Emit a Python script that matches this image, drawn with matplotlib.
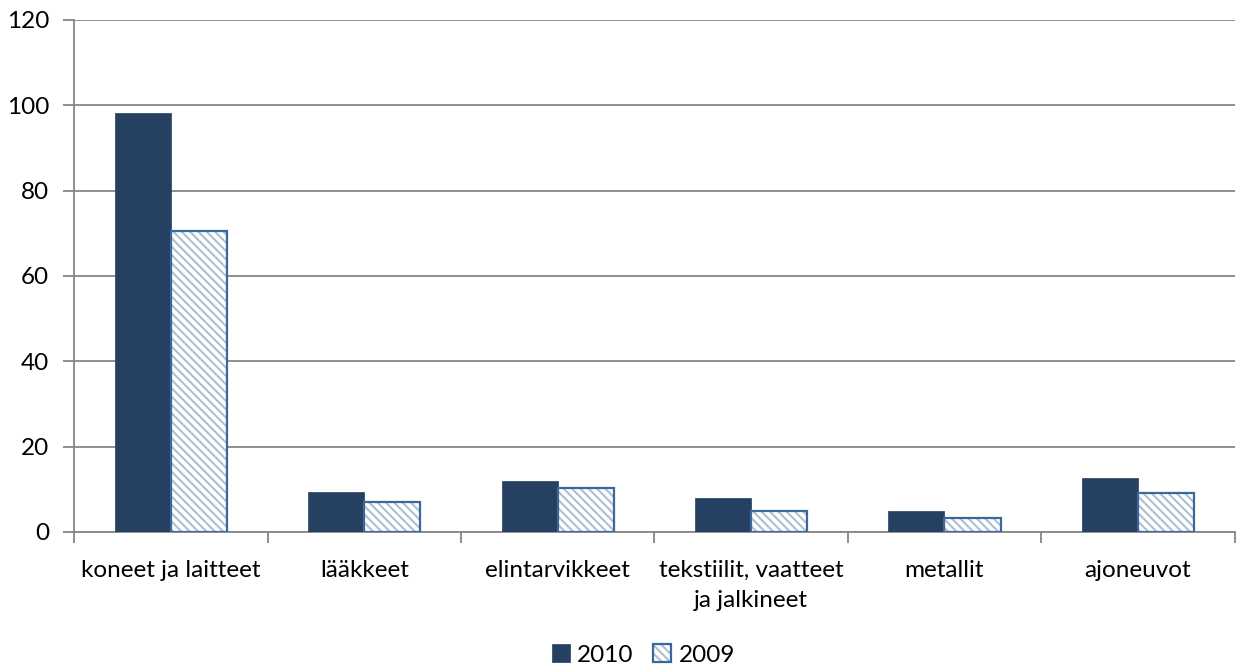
import numpy as np
import matplotlib
matplotlib.use('Agg')
import matplotlib.pyplot as plt
from matplotlib.legend_handler import HandlerTuple

categories = ['koneet ja laitteet', 'lääkkeet', 'elintarvikkeet',
              'tekstiilit, vaatteet\nja jalkineet', 'metallit', 'ajoneuvot']
values_2010 = [98.2, 9.3, 12.0, 8.0, 4.9, 12.7]
values_2009 = [70.5, 7.0, 10.2, 4.9, 3.2, 9.1]
yticks = [0, 20, 40, 60, 80, 100, 120]

plt.rcParams['font.family'] = ['Lato', 'DejaVu Sans']
plt.rcParams['hatch.linewidth'] = 1.5

fig = plt.figure(figsize=(12.37, 6.65), dpi=100)
ax = fig.add_axes([0.06, 0.2, 0.938, 0.77])

x = np.arange(len(categories))
w = 0.29
b10 = ax.bar(x - w / 2, values_2010, w, color='#254061', edgecolor='#254061',
             linewidth=0.5, zorder=3)
# hatch drawn with light colour, outline drawn on top separately
b09h = ax.bar(x + w / 2, values_2009, w, color='white', edgecolor='#AEBFD2',
              linewidth=0, hatch='\\\\\\\\', zorder=3)
b09e = ax.bar(x + w / 2, values_2009, w, fill=False, edgecolor='#3A679C',
              linewidth=1.6, zorder=4)

ax.set_xlim(-0.5, len(categories) - 0.5)
ax.set_ylim(0, 120)
ax.set_yticks(yticks)
ax.yaxis.grid(True, color='#868686', linewidth=1.3, zorder=0)

# x ticks sit between categories, labels centred under groups
ax.set_xticks(np.arange(len(categories) + 1) - 0.5)
ax.set_xticklabels([])
ax.set_xticks(x, minor=True)
ax.set_xticklabels(categories, minor=True, fontsize=17.5, linespacing=1.55,
                   va='top')
ax.tick_params(axis='x', which='minor', length=0, pad=20)
ax.tick_params(axis='x', which='major', length=8, width=1.3, color='#868686')
ax.tick_params(axis='y', length=8, width=1.3, color='#868686', labelsize=17.5, pad=10)

for s in ['top', 'right']:
    ax.spines[s].set_visible(False)
for s in ['left', 'bottom']:
    ax.spines[s].set_color('#868686')
    ax.spines[s].set_linewidth(1.3)

fig.legend([b10, (b09h, b09e)], ['2010', '2009'],
           handler_map={tuple: HandlerTuple(ndivide=1, pad=0)},
           loc='lower center', bbox_to_anchor=(0.52, -0.034), ncol=2,
           frameon=False, fontsize=17.5, handlelength=0.75, handleheight=0.75,
           handletextpad=0.3, columnspacing=0.8)

fig.savefig('out.png', dpi=100)
